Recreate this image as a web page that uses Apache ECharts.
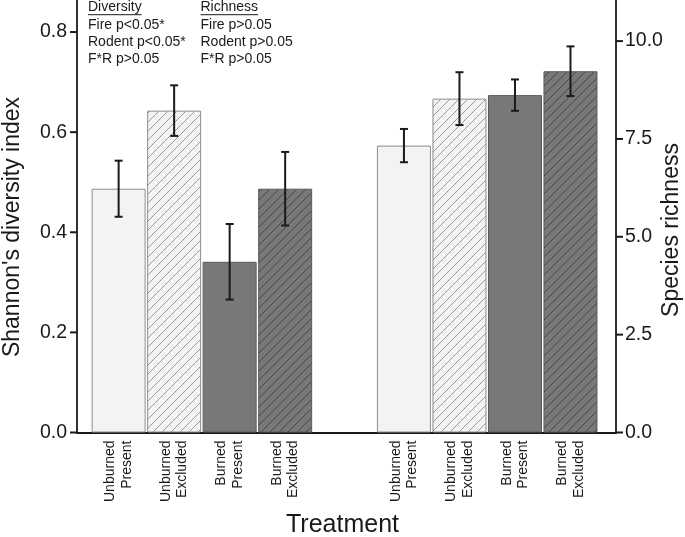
<!DOCTYPE html>
<html>
<head>
<meta charset="utf-8">
<script src="https://cdn.jsdelivr.net/npm/echarts@6/dist/echarts.min.js"></script>
<style>html,body{margin:0;padding:0;background:#fff}#c{width:685px;height:537px}</style>
</head>
<body>
<div id="c"></div>
<script>
// ---- data ----
const treatments = ['Unburned\nPresent', 'Unburned\nExcluded', 'Burned\nPresent', 'Burned\nExcluded'];
const xDiversity = [1, 2, 3, 4];
const xRichness = [6.14, 7.14, 8.14, 9.14];
const diversityMean = [0.487, 0.643, 0.341, 0.487];
const diversitySE = [0.056, 0.0505, 0.0755, 0.0735];
const richnessMean = [7.33, 8.53, 8.62, 9.23];
const richnessSE = [0.425, 0.675, 0.40, 0.635];
const leftTicks = [0, 0.2, 0.4, 0.6, 0.8];
const rightTicks = [0, 2.5, 5, 7.5, 10];
const divNotes = ['Fire p<0.05*', 'Rodent p<0.05*', 'F*R p>0.05'];
const richNotes = ['Fire p>0.05', 'Rodent p>0.05', 'F*R p>0.05'];

// ---- axis extents ----
const X_MIN = 0.25, X_MAX = 9.96;

// ---- styles ----
const FONT = "'Liberation Sans', Arial, Helvetica, sans-serif";
const INK = '#1a1a1a';
function hatch(bg, line) {
  const c = document.createElement('canvas');
  const s = 9;
  c.width = s; c.height = s;
  const g = c.getContext('2d');
  g.fillStyle = bg; g.fillRect(0, 0, s, s);
  g.strokeStyle = line; g.lineWidth = 1;
  g.beginPath();
  g.moveTo(-1, s + 1); g.lineTo(s + 1, -1);
  g.moveTo(-2, 2); g.lineTo(2, -2);
  g.moveTo(s - 2, s + 2); g.lineTo(s + 2, s - 2);
  g.stroke();
  return { image: c, repeat: 'repeat' };
}
const LIGHT = '#f3f3f3', DARK = '#787878';
const barStyles = [
  { color: LIGHT, borderColor: '#8c8c8c', borderWidth: 1 },
  { color: hatch(LIGHT, '#9a9a9a'), borderColor: '#8c8c8c', borderWidth: 1 },
  { color: DARK, borderColor: '#5a5a5a', borderWidth: 1 },
  { color: hatch(DARK, '#474747'), borderColor: '#5a5a5a', borderWidth: 1 }
];

const allX = xDiversity.concat(xRichness);
function labelFor(v) {
  let best = 0, bd = 1e9;
  allX.forEach((x, i) => { const d = Math.abs(x - v); if (d < bd) { bd = d; best = i; } });
  return treatments[best % 4];
}
function tickFormatter(list) {
  return v => list.some(t => Math.abs(t - v) < 1e-6) ? v.toFixed(1) : '';
}

function errRender(params, api) {
  const x = api.value(0), lo = api.value(1), hi = api.value(2);
  const a = api.coord([x, lo]), b = api.coord([x, hi]);
  const w = 4;
  const st = { stroke: INK, lineWidth: 2 };
  return {
    type: 'group',
    children: [
      { type: 'line', shape: { x1: a[0], y1: a[1], x2: b[0], y2: b[1] }, style: st },
      { type: 'line', shape: { x1: a[0] - w, y1: a[1], x2: a[0] + w, y2: a[1] }, style: st },
      { type: 'line', shape: { x1: b[0] - w, y1: b[1], x2: b[0] + w, y2: b[1] }, style: st }
    ]
  };
}
// tick marks drawn as small filled rectangles, positioned via api.coord
function tickRender(side) {
  return function (params, api) {
    const p = api.coord([api.value(0), api.value(1)]);
    const x0 = side < 0 ? p[0] - 7 : p[0];
    return { type: 'rect', shape: { x: x0, y: p[1] - 1, width: 7, height: 2 },
      style: { fill: INK }, z2: 100 };
  };
}

// text width measure for underlines
const mctx = document.createElement('canvas').getContext('2d');
function tw(t, f) { mctx.font = f; return mctx.measureText(t).width; }
const noteFont = '14px ' + FONT;

const graphics = [
  { type: 'text', x: 13, y: 227, rotation: Math.PI / 2,
    style: { text: "Shannon's diversity index", x: 0, y: 0, align: 'center', verticalAlign: 'middle', font: '23px ' + FONT, fill: INK } },
  { type: 'text', x: 672, y: 230, rotation: Math.PI / 2,
    style: { text: 'Species richness', x: 0, y: 0, align: 'center', verticalAlign: 'middle', font: '23px ' + FONT, fill: INK } },
  { type: 'text', x: 342.5, y: 525,
    style: { text: 'Treatment', x: 0, y: 0, align: 'center', verticalAlign: 'middle', font: '25px ' + FONT, fill: INK } }
];
function addNotes(title, notes, x0) {
  graphics.push({ type: 'text', x: x0, y: 7.5, style: { text: title, x: 0, y: 0, align: 'left', verticalAlign: 'middle', font: noteFont, fill: INK } });
  const w = tw(title, noteFont);
  graphics.push({ type: 'line', shape: { x1: x0, y1: 14.7, x2: x0 + w, y2: 14.7 }, style: { stroke: INK, lineWidth: 1 } });
  notes.forEach((n, i) => {
    graphics.push({ type: 'text', x: x0, y: 25 + i * 17, style: { text: n, x: 0, y: 0, align: 'left', verticalAlign: 'middle', font: noteFont, fill: INK } });
  });
}
addNotes('Diversity', divNotes, 88);
addNotes('Richness', richNotes, 200.5);

const chart = echarts.init(document.getElementById('c'), null, { renderer: 'canvas' });
const axisLineStyle = { color: INK, width: 1.8 };
chart.setOption({
  animation: false,
  backgroundColor: '#fff',
  grid: { left: 77, right: 69, top: 0, bottom: 104.5, containLabel: false },
  xAxis: {
    type: 'value', min: X_MIN, max: X_MAX,
    axisLine: { show: true, onZero: false, lineStyle: axisLineStyle },
    axisTick: { show: false },
    splitLine: { show: false },
    axisLabel: {
      customValues: allX, rotate: 90, formatter: labelFor,
      fontSize: 14, lineHeight: 16.5, margin: 8, color: INK, fontFamily: FONT
    }
  },
  yAxis: [
    {
      type: 'value', min: 0, max: 0.864, interval: 0.2, position: 'left',
      axisLine: { show: true, onZero: false, lineStyle: axisLineStyle },
      axisTick: { show: false },
      splitLine: { show: false },
      axisLabel: { showMaxLabel: false, formatter: tickFormatter(leftTicks), fontSize: 19.5, margin: 10, color: INK, fontFamily: FONT }
    },
    {
      type: 'value', min: 0, max: 11.05, interval: 2.5, position: 'right',
      axisLine: { show: true, onZero: false, lineStyle: axisLineStyle },
      axisTick: { show: false },
      splitLine: { show: false },
      axisLabel: { showMaxLabel: false, formatter: tickFormatter(rightTicks), fontSize: 19.5, margin: 9, color: INK, fontFamily: FONT }
    }
  ],
  graphic: graphics,
  series: [
    {
      type: 'bar', yAxisIndex: 0, barWidth: 54, barGap: '-100%',
      data: xDiversity.map((x, i) => ({ value: [x, diversityMean[i]], itemStyle: barStyles[i] }))
    },
    {
      type: 'bar', yAxisIndex: 1, barWidth: 54, barGap: '-100%',
      data: xRichness.map((x, i) => ({ value: [x, richnessMean[i]], itemStyle: barStyles[i] }))
    },
    {
      type: 'custom', yAxisIndex: 0, renderItem: errRender, z: 5,
      encode: { x: 0, y: [1, 2] },
      data: xDiversity.map((x, i) => [x, diversityMean[i] - diversitySE[i], diversityMean[i] + diversitySE[i]])
    },
    {
      type: 'custom', yAxisIndex: 1, renderItem: errRender, z: 5,
      encode: { x: 0, y: [1, 2] },
      data: xRichness.map((x, i) => [x, richnessMean[i] - richnessSE[i], richnessMean[i] + richnessSE[i]])
    },
    {
      type: 'custom', yAxisIndex: 0, renderItem: tickRender(-1), clip: false, silent: true, z: 20,
      encode: { x: 0, y: 1 }, data: leftTicks.map(v => [X_MIN, v])
    },
    {
      type: 'custom', yAxisIndex: 1, renderItem: tickRender(1), clip: false, silent: true, z: 20,
      encode: { x: 0, y: 1 }, data: rightTicks.map(v => [X_MAX, v])
    }
  ]
});
</script>
</body>
</html>
